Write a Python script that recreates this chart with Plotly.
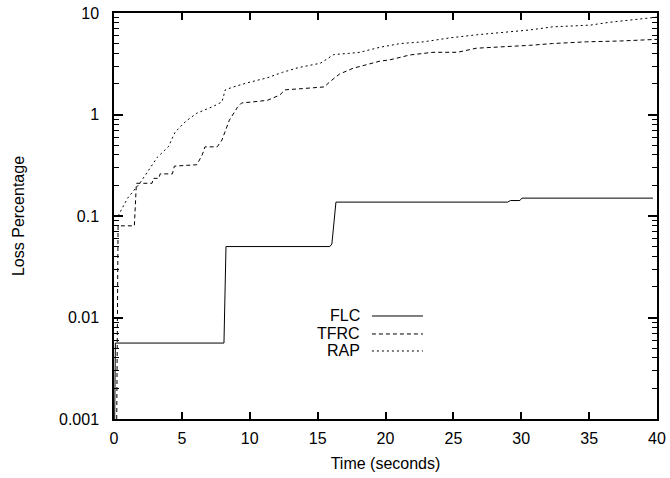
import plotly.graph_objects as go

# ---- data ----
flc_t = [0.05, 0.1, 8.1, 8.25, 15.9, 16.05, 16.35, 29.0, 29.2, 29.9, 30.05, 39.7]
flc_v = [0.001, 0.0056, 0.0056, 0.050, 0.050, 0.053, 0.137, 0.137, 0.142, 0.142, 0.150, 0.150]

tfrc_t = [0.2, 0.3, 1.5, 1.65, 2.8, 2.9, 3.3, 3.4, 4.3, 4.45, 6.1, 6.5, 6.7, 7.6, 7.95, 8.5,
          9.1, 9.4, 10.2, 11.3, 12.2, 12.6, 13.9, 15.5, 15.9, 16.6, 17.6, 18.9, 19.6, 20.3,
          21.8, 23.5, 25.3, 26.7, 28.4, 30.6, 32.3, 34.8, 37.3, 40.0]
tfrc_v = [0.001, 0.08, 0.08, 0.21, 0.21, 0.235, 0.235, 0.26, 0.26, 0.31, 0.32, 0.40, 0.48, 0.48,
          0.56, 0.88, 1.18, 1.3, 1.33, 1.38, 1.55, 1.75, 1.8, 1.87, 2.1, 2.5, 2.85, 3.2, 3.36,
          3.45, 3.86, 4.1, 4.1, 4.5, 4.6, 4.8, 5.0, 5.2, 5.3, 5.5]

rap_t = [0.3, 1.0, 1.9, 2.65, 3.2, 4.0, 4.3, 4.5, 5.3, 6.1, 7.3, 7.95, 8.2, 8.8, 9.8, 11.3,
         12.4, 13.6, 15.2, 16.2, 17.3, 18.1, 19.6, 21.1, 22.8, 24.8, 26.7, 28.4, 30.6, 32.3,
         35.1, 36.5, 40.0]
rap_v = [0.1, 0.15, 0.21, 0.30, 0.38, 0.48, 0.6, 0.67, 0.86, 1.03, 1.2, 1.33, 1.75, 1.87, 2.05,
         2.3, 2.6, 2.9, 3.2, 3.9, 4.0, 4.1, 4.6, 5.0, 5.2, 5.7, 6.1, 6.4, 6.8, 7.3, 7.6, 8.1, 9.1]

x_ticks = [0, 5, 10, 15, 20, 25, 30, 35, 40]
y_ticks = [0.001, 0.01, 0.1, 1, 10]
y_tick_labels = ["0.001", "0.01", "0.1", "1", "10"]

series_names = ["FLC", "TFRC", "RAP"]
series_dash = ["solid", "4px,3px", "2px,3px"]

FONT = "Liberation Sans, Arial, Helvetica, sans-serif"
FS = 16

fig = go.Figure()
for name, t, v, dash in zip(series_names, [flc_t, tfrc_t, rap_t], [flc_v, tfrc_v, rap_v], series_dash):
    fig.add_trace(go.Scatter(x=t, y=v, mode="lines", name=name,
                             line=dict(color="black", width=1, dash=dash),
                             showlegend=False))

# gnuplot-style key: label on the left, line sample on the right
key_y = [0.2537, 0.2094, 0.1675]
for name, dash, ky in zip(series_names, series_dash, key_y):
    fig.add_annotation(x=0.4567, y=ky, xref="paper", yref="paper", text=name,
                       showarrow=False, xanchor="right", yanchor="middle",
                       font=dict(family=FONT, size=FS, color="black"))
    fig.add_shape(type="line", xref="paper", yref="paper", x0=0.475, x1=0.569,
                  y0=ky, y1=ky, line=dict(color="black", width=1, dash=dash))

fig.update_layout(
    width=670, height=478,
    margin=dict(l=114, r=13, t=13, b=59),
    paper_bgcolor="white", plot_bgcolor="white",
    font=dict(family=FONT, size=FS, color="black"),
    xaxis=dict(range=[0, 40], tickvals=x_ticks, ticks="inside", ticklen=7, tickwidth=1.5,
               tickcolor="black", showline=True, linecolor="black", linewidth=1.5,
               mirror="ticks", showgrid=False, zeroline=False, automargin=False,
               ticklabelstandoff=4, ticklabeloverflow="allow",
               title=dict(text="Time (seconds)", standoff=12, font=dict(size=FS))),
    yaxis=dict(type="log", range=[-3, 1], tickvals=y_ticks, ticktext=y_tick_labels,
               ticks="inside", ticklen=9, tickwidth=1.5, tickcolor="black",
               showline=True, linecolor="black", linewidth=1.5, mirror="ticks",
               showgrid=False, zeroline=False, automargin=False, ticklabelstandoff=10,
               ticklabeloverflow="allow",
               minor=dict(ticks="inside", ticklen=5, tickcolor="black", tickwidth=1,
                          dtick="D1", showgrid=False),
               title=dict(text="Loss Percentage", standoff=30, font=dict(size=FS))),
)

# remove the browser's default 8px body margin so the figure fills the window exactly
fig.write_html("out.html", config={"displayModeBar": False},
               post_script="document.body.style.margin='0';")
